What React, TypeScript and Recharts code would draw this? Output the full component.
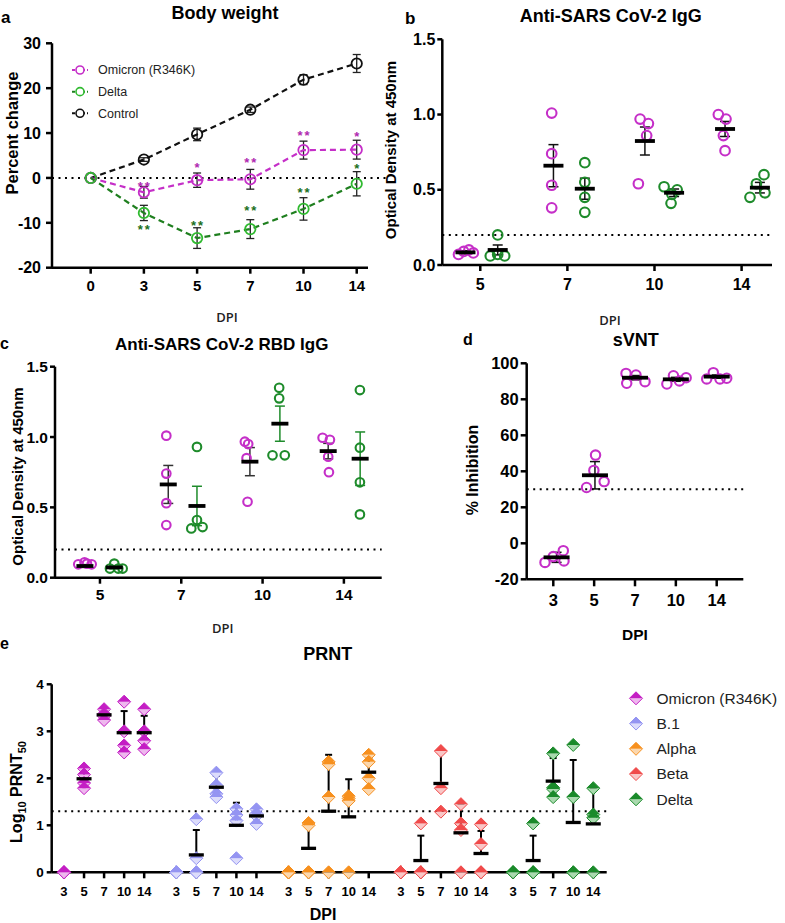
import React from "react";
import {
  ComposedChart,
  ScatterChart,
  Line,
  Scatter,
  XAxis,
  YAxis,
  ErrorBar,
  ReferenceLine,
} from "recharts";

const FONT = "'Liberation Sans', Arial, Helvetica, sans-serif";
const SMALL_FONT = "'Open Sans', 'Liberation Sans', sans-serif";

const MAGENTA = "#C52FC8";
const MAGENTA_STAR = "#B02AB0";
const GREEN_BRIGHT = "#30BA30";
const GREEN_LINE = "#1F7F1F";
const GREEN_DARK = "#1E8B2B";
const GREEN_STAR = "#1B701B";

// ---- a: body weight, % change (mean ± SEM) ----
const BW_DAYS = ["0", "3", "5", "7", "10", "14"];
const BW_SERIES = ["Omicron (R346K)", "Delta", "Control"];
const BW_OMICRON = [0, -3.2, -0.5, -0.3, 6.2, 6.3];
const BW_OMICRON_SEM = [0, 1.3, 1.6, 2.2, 2.0, 2.1];
const BW_DELTA = [0, -7.8, -13.4, -11.4, -6.9, -1.3];
const BW_DELTA_SEM = [0, 1.7, 2.3, 2.1, 2.5, 2.7];
const BW_CONTROL = [0, 4.1, 9.7, 15.2, 21.9, 25.5];
const BW_CONTROL_SEM = [0, 0.4, 1.4, 0.6, 1.1, 2.0];
const BW_OMICRON_SIG = ["", "**", "*", "**", "**", "*"];
const BW_OMICRON_SIG_AT = [0, -1.2, 2.9, 4.0, 10.2, 9.9];
const BW_DELTA_SIG = ["", "**", "**", "**", "**", "*"];
const BW_DELTA_SIG_AT = [0, -10.8, -9.9, -6.5, -2.7, 2.7];

// ---- b: anti-SARS CoV-2 IgG (OD450) ----
const ELISA_DAYS = ["5", "7", "10", "14"];
const IGG_OMICRON = [[0.07, 0.09, 0.1, 0.08], [1.01, 0.74, 0.53, 0.38], [0.97, 0.94, 0.86, 0.54], [1.0, 0.97, 0.86, 0.76]];
const IGG_OMICRON_MEAN = [0.084, 0.66, 0.824, 0.904];
const IGG_OMICRON_SEM = [0.01, 0.14, 0.093, 0.05];
const IGG_DELTA = [[0.06, 0.2, 0.07, 0.06], [0.68, 0.55, 0.45, 0.35], [0.52, 0.47, 0.5, 0.41], [0.45, 0.54, 0.6, 0.48]];
const IGG_DELTA_MEAN = [0.1, 0.507, 0.48, 0.514];
const IGG_DELTA_SEM = [0.033, 0.07, 0.025, 0.035];

// ---- c: anti-SARS CoV-2 RBD IgG (OD450) ----
const RBD_OMICRON = [[0.095, 0.11, 0.1, 0.095], [1.01, 0.74, 0.53, 0.374], [0.967, 0.95, 0.85, 0.54], [0.995, 0.98, 0.86, 0.75]];
const RBD_OMICRON_MEAN = [0.083, 0.663, 0.825, 0.9];
const RBD_OMICRON_SEM = [0.01, 0.135, 0.1, 0.055];
const RBD_DELTA = [[0.065, 0.1, 0.065, 0.065], [0.93, 0.35, 0.41, 0.36], [1.35, 1.275, 0.87, 0.87], [1.334, 0.924, 0.678, 0.45]];
const RBD_DELTA_MEAN = [0.073, 0.51, 1.095, 0.846];
const RBD_DELTA_SEM = [0.01, 0.14, 0.125, 0.19];

// ---- d: sVNT % inhibition ----
const SVNT_DAYS = ["3", "5", "7", "10", "14"];
const SVNT = [[-10.6, -7.4, -4.1, -9.8], [31, 49, 40.5, 34.3], [94.4, 88.9, 93.5, 89.8], [88.5, 93.1, 90.2, 92], [91.3, 94.8, 91.3, 91.7]];
const SVNT_MEAN = [-7.8, 37.8, 92, 91.1, 92.6];
const SVNT_SEM = [2.8, 7.6, 1.2, 1.1, 0.9];

// ---- e: PRNT, log10 PRNT50 (mean + SD) ----
const PRNT_DAYS = ["3", "5", "7", "10", "14"];
const PRNT_VARIANTS = ["Omicron (R346K)", "B.1", "Alpha", "Beta", "Delta"];
const PRNT_OMICRON = [[0, 0, 0, 0], [2.21, 2.08, 1.9, 1.79], [3.47, 3.37, 3.32, 3.24], [3.63, 3.0, 2.7, 2.55], [3.47, 3.0, 2.8, 2.62]];
const PRNT_B1 = [[0, 0, 0, 0], [1.13, 0.3, 0, 0], [2.12, 1.85, 1.67, 1.6], [1.35, 1.22, 1.1, 0.3], [1.34, 1.25, 1.2, 1.03]];
const PRNT_ALPHA = [[0, 0, 0, 0], [1.05, 1.0, 0, 0], [2.35, 2.3, 1.6, 0], [1.62, 1.57, 1.52, 0], [2.5, 2.35, 2.0, 1.77]];
const PRNT_BETA = [[0, 0, 0, 0], [1.04, 0, 0, 0], [2.58, 1.79, 1.29], [1.45, 1.04, 0.9, 0], [1.02, 0.6, 0, 0]];
const PRNT_DELTA = [[0, 0, 0, 0], [1.04, 0, 0, 0], [2.53, 1.8, 1.77, 1.6], [2.71, 1.6, 0, 0], [1.79, 1.23, 1.16, 0]];
const PRNT_MEANS = [
  [0, 1.99, 3.35, 2.97, 2.97],
  [0, 0.37, 1.81, 1.0, 1.2],
  [0, 0.51, 1.3, 1.18, 2.13],
  [0, 0.25, 1.89, 0.84, 0.4],
  [0, 0.25, 1.94, 1.06, 1.03],
];
const PRNT_SD = [
  [0, 0.15, 0.06, 0.46, 0.36],
  [0, 0.53, 0.24, 0.48, 0.11],
  [0, 0.57, 1.2, 0.8, 0.3],
  [0, 0.53, 0.65, 0.61, 0.48],
  [0, 0.53, 0.49, 1.33, 0.74],
];

// horizontal scatter of the dots inside a group (category units), as drawn by the plotting program
const IGG_OMICRON_DX = [[-0.25, -0.19, -0.13, -0.08], [-0.18, -0.18, -0.18, -0.18], [-0.165, -0.07, -0.09, -0.185], [-0.267, -0.179, -0.209, -0.19]];
const IGG_OMICRON_MEAN_DX = [-0.17, -0.16, -0.11, -0.19];
const IGG_DELTA_DX = [[0.115, 0.2, 0.2, 0.28], [0.2, 0.2, 0.2, 0.2], [0.11, 0.2, 0.26, 0.19], [0.096, 0.17, 0.257, 0.268]];
const IGG_DELTA_MEAN_DX = [0.2, 0.2, 0.225, 0.21];
const RBD_OMICRON_DX = [[-0.267, -0.19, -0.16, -0.102], [-0.184, -0.184, -0.184, -0.184], [-0.218, -0.177, -0.197, -0.185], [-0.262, -0.172, -0.193, -0.184]];
const RBD_OMICRON_MEAN_DX = [-0.185, -0.16, -0.156, -0.193];
const RBD_DELTA_DX = [[0.123, 0.176, 0.225, 0.279], [0.193, 0.123, 0.193, 0.262], [0.204, 0.204, 0.122, 0.273], [0.197, 0.197, 0.197, 0.197]];
const RBD_DELTA_MEAN_DX = [0.176, 0.193, 0.213, 0.2];
const SVNT_DX = [[-0.203, 0, 0.245, 0.262], [-0.186, 0.034, -0.007, 0.245], [-0.22, -0.203, 0.024, 0.245], [-0.22, -0.059, 0.088, 0.252], [-0.245, -0.083, 0.08, 0.245]];
const SVNT_MEAN_DX = [0.08, 0.02, 0, 0, 0];
const PRNT_GAP = 5.6;
const PRNT_COLORS = ["#C41EC4", "#9494F2", "#F7901E", "#F04A4A", "#1A8A2A"];
const PRNT_LIGHT = ["#EEB8EE", "#DCDCFB", "#FBD7AE", "#F9C6C6", "#A9D9AE"];

type Box = { left: number; top: number; width: number; height: number };
type Plot = { x0: number; y0: number; x1: number; y1: number };
const YW = 40;
const XH = 30;

function frame(box: Box, plot: Plot) {
  return {
    width: box.width,
    height: box.height,
    margin: {
      top: plot.y0 - box.top,
      right: box.left + box.width - plot.x1,
      bottom: box.top + box.height - plot.y1 - XH,
      left: plot.x0 - box.left - YW,
    },
  };
}

const Place = ({ box, children }: { box: Box; children: React.ReactNode }) => (
  <div style={{ position: "absolute", left: box.left, top: box.top, width: box.width, height: box.height }}>
    {children}
  </div>
);

const AXIS = { stroke: "#000", strokeWidth: 2.5 };
const tickFont = (size: number) => ({ fontSize: size, fontWeight: 700, fill: "#000", fontFamily: FONT });
const DOTTED = { stroke: "#000", strokeWidth: 2, strokeDasharray: "2 4.5" };

const openCircle = (color: string, r: number, sw: number) => (p: any) =>
  <circle cx={p.cx} cy={p.cy} r={r} fill="none" stroke={color} strokeWidth={sw} />;

const meanBar = (hw: number, th: number) => (p: any) =>
  <rect x={p.cx - hw} y={p.cy - th / 2} width={hw * 2} height={th} fill="#000" />;

const halfDiamond = (color: string, light: string, r = 6.5) => (p: any) => {
  const { cx, cy } = p;
  return (
    <g>
      <path d={`M${cx - r},${cy}L${cx},${cy + r}L${cx + r},${cy}Z`} fill={light} />
      <path d={`M${cx - r},${cy}L${cx},${cy - r}L${cx + r},${cy}Z`} fill={color} />
      <path d={`M${cx - r},${cy}L${cx},${cy - r}L${cx + r},${cy}L${cx},${cy + r}Z`} fill="none" stroke={color} strokeWidth={1} />
    </g>
  );
};

// ---------- panel a ----------
const A_BOX: Box = { left: 0, top: 0, width: 392, height: 310 };
const A_PLOT: Plot = { x0: 52, y0: 43.3, x1: 368, y1: 267.7 };

function BodyWeight() {
  const rows = BW_DAYS.map((_, i) => ({
    x: i,
    omicron: BW_OMICRON[i],
    omicronErr: BW_OMICRON_SEM[i],
    delta: BW_DELTA[i],
    deltaErr: BW_DELTA_SEM[i],
    control: BW_CONTROL[i],
    controlErr: BW_CONTROL_SEM[i],
  }));
  const omiStars = BW_OMICRON_SIG.map((s, i) => ({ x: i, y: BW_OMICRON_SIG_AT[i], s })).filter((d) => d.s);
  const deltaStars = BW_DELTA_SIG.map((s, i) => ({ x: i, y: BW_DELTA_SIG_AT[i], s })).filter((d) => d.s);
  const star = (color: string) => (p: any) => (
    <text x={p.cx + 1} y={p.cy + 7.4} textAnchor="middle" fontSize={13} fontWeight={700} letterSpacing={2} fill={color} fontFamily={FONT}>
      {p.payload.s}
    </text>
  );
  const f = frame(A_BOX, A_PLOT);
  const series = [
    { key: "control", color: "#111", line: "#111" },
    { key: "omicron", color: MAGENTA, line: MAGENTA },
    { key: "delta", color: GREEN_BRIGHT, line: GREEN_LINE },
  ];
  return (
    <Place box={A_BOX}>
      <ComposedChart width={f.width} height={f.height} margin={f.margin} data={rows}>
        <ReferenceLine segment={[{ x: -0.727, y: 0 }, { x: 5.59, y: 0 }]} ifOverflow="visible" {...DOTTED} />
        <XAxis type="number" dataKey="x" domain={[-0.727, 5.212]} ticks={BW_DAYS.map((_, i) => i)}
          tickFormatter={(v: number) => BW_DAYS[Math.round(v)]} height={XH} axisLine={AXIS} tickLine={AXIS}
          tickSize={6} tickMargin={7} tick={tickFont(15)} interval={0} />
        <YAxis type="number" domain={[-20, 30]} ticks={[-20, -10, 0, 10, 20, 30]} width={YW}
          axisLine={AXIS} tickLine={AXIS} tickSize={6} tickMargin={5} tick={tickFont(16)} interval={0} />
        {series.map((s) => (
          <Line key={s.key} dataKey={s.key} stroke={s.line} strokeWidth={2.2} strokeDasharray="6 4"
            isAnimationActive={false} dot={openCircle(s.color, 5.2, 1.8)} activeDot={false}>
            <ErrorBar dataKey={`${s.key}Err`} direction="y" width={4} stroke="#222" strokeWidth={1.3} />
          </Line>
        ))}
        <Scatter data={omiStars} dataKey="y" shape={star(MAGENTA_STAR)} isAnimationActive={false} />
        <Scatter data={deltaStars} dataKey="y" shape={star(GREEN_STAR)} isAnimationActive={false} />
      </ComposedChart>
    </Place>
  );
}

// ---------- panels b, c, d: dot plots with mean ± SEM ----------
type DotSeries = {
  values: number[][];
  dx: number[][];
  mean: number[];
  meanDx: number[];
  err: number[];
  color: string;
  errColor: string;
};

function DotPanel(props: {
  box: Box;
  plot: Plot;
  xDomain: [number, number];
  labels: string[];
  yDomain: [number, number];
  yTicks: number[];
  yFmt: (v: number) => string;
  threshold: number;
  series: DotSeries[];
  r: number;
  hw: number;
  font: number;
  xTick: [number, number];
  yTick: [number, number];
}) {
  const f = frame(props.box, props.plot);
  return (
    <Place box={props.box}>
      <ScatterChart width={f.width} height={f.height} margin={f.margin}>
        <ReferenceLine y={props.threshold} {...DOTTED} />
        <XAxis type="number" dataKey="x" domain={props.xDomain} ticks={props.labels.map((_, i) => i)}
          tickFormatter={(v: number) => props.labels[Math.round(v)]} height={XH} axisLine={AXIS} tickLine={AXIS}
          tickSize={props.xTick[0]} tickMargin={props.xTick[1]} tick={tickFont(props.font)} interval={0} />
        <YAxis type="number" dataKey="y" domain={props.yDomain} ticks={props.yTicks} tickFormatter={props.yFmt}
          width={YW} axisLine={AXIS} tickLine={AXIS} tickSize={props.yTick[0]} tickMargin={props.yTick[1]}
          tick={tickFont(props.font)} interval={0} />
        {props.series.map((s, si) => (
          <Scatter key={`p${si}`} isAnimationActive={false} shape={openCircle(s.color, props.r, 2.1)}
            data={s.values.flatMap((grp, g) => grp.map((y, k) => ({ x: g + s.dx[g][k], y })))} />
        ))}
        {props.series.map((s, si) => (
          <Scatter key={`m${si}`} isAnimationActive={false} shape={meanBar(props.hw, 3.8)}
            data={s.mean.map((y, g) => ({ x: g + s.meanDx[g], y, err: s.err[g] }))}>
            <ErrorBar dataKey="err" direction="y" width={5} stroke={s.errColor} strokeWidth={1.5} />
          </Scatter>
        ))}
      </ScatterChart>
    </Place>
  );
}

// ---------- panel e ----------
const E_BOX: Box = { left: 0, top: 615, width: 785, height: 308 };
const E_PLOT: Plot = { x0: 51.7, y0: 684.3, x1: 606.7, y1: 872.3 };

function Prnt() {
  const f = frame(E_BOX, E_PLOT);
  const groups = [PRNT_OMICRON, PRNT_B1, PRNT_ALPHA, PRNT_BETA, PRNT_DELTA];
  const ticks = PRNT_VARIANTS.flatMap((_, g) => PRNT_DAYS.map((_, d) => g * PRNT_GAP + d));
  return (
    <Place box={E_BOX}>
      <ScatterChart width={f.width} height={f.height} margin={f.margin}>
        <ReferenceLine y={1.3} {...DOTTED} />
        <XAxis type="number" dataKey="x" domain={[-0.613, 27.07]} ticks={ticks}
          tickFormatter={(v: number) => {
            const g = Math.floor((v + 0.5) / PRNT_GAP);
            return PRNT_DAYS[Math.round(v - g * PRNT_GAP)];
          }}
          height={XH} axisLine={AXIS} tickLine={AXIS} tickSize={6} tickMargin={8} tick={tickFont(13)} interval={0} />
        <YAxis type="number" dataKey="y" domain={[0, 4]} ticks={[0, 1, 2, 3, 4]} width={YW}
          axisLine={AXIS} tickLine={AXIS} tickSize={5} tickMargin={3} tick={tickFont(13.5)} interval={0} />
        {groups.map((grp, g) => (
          <Scatter key={`p${g}`} isAnimationActive={false} shape={halfDiamond(PRNT_COLORS[g], PRNT_LIGHT[g])}
            data={grp.flatMap((vals, d) => vals.map((y) => ({ x: g * PRNT_GAP + d, y })))} />
        ))}
        {groups.map((_, g) => (
          <Scatter key={`m${g}`} isAnimationActive={false} shape={meanBar(7.5, 3.3)}
            data={PRNT_MEANS[g]
              .map((y, d) => ({ x: g * PRNT_GAP + d, y, err: [0, PRNT_SD[g][d]] }))
              .filter((row) => row.y > 0)}>
            <ErrorBar dataKey="err" direction="y" width={3.5} stroke="#000" strokeWidth={2} />
          </Scatter>
        ))}
      </ScatterChart>
    </Place>
  );
}

// ---------- text overlay: panel letters, titles, axis titles, legends ----------
function Overlay() {
  const bold = { fontFamily: FONT, fontWeight: 700, fill: "#000" } as const;
  const small = { fontFamily: SMALL_FONT, fontWeight: 600, fill: "#222", fontSize: 13 } as const;
  const vert = (x: number, y: number, size: number, text: React.ReactNode) => (
    <text transform={`translate(${x},${y}) rotate(-90)`} textAnchor="middle" dy="0.35em" fontSize={size} {...bold}>
      {text}
    </text>
  );
  const bwColors = [MAGENTA, GREEN_BRIGHT, "#111"];
  const bwLines = [MAGENTA, GREEN_LINE, "#111"];
  return (
    <svg width={785} height={923} style={{ position: "absolute", left: 0, top: 0, pointerEvents: "none" }}>
      {/* panel letters */}
      <text x={1} y={23} fontSize={17} {...bold}>a</text>
      <text x={405} y={24} fontSize={17} {...bold}>b</text>
      <text x={0} y={349} fontSize={16} {...bold}>c</text>
      <text x={463} y={345} fontSize={16} {...bold}>d</text>
      <text x={0} y={649} fontSize={16} {...bold}>e</text>

      {/* titles */}
      <text x={225} y={19} textAnchor="middle" fontSize={18} {...bold}>Body weight</text>
      <text x={610.7} y={21.7} textAnchor="middle" fontSize={18} {...bold}>Anti-SARS CoV-2 IgG</text>
      <text x={221.7} y={350} textAnchor="middle" fontSize={17} {...bold}>Anti-SARS CoV-2 RBD IgG</text>
      <text x={635.7} y={345.7} textAnchor="middle" fontSize={18} {...bold}>sVNT</text>
      <text x={327.7} y={660} textAnchor="middle" fontSize={18} {...bold}>PRNT</text>

      {/* axis titles */}
      {vert(12, 133, 16.5, "Percent change")}
      {vert(391, 150, 15, "Optical Density at 450nm")}
      {vert(17.5, 476.5, 15, "Optical Density at 450nm")}
      {vert(472.5, 470, 16, "% Inhibition")}
      {vert(16.5, 792, 16, (
        <>
          Log<tspan dy={4} fontSize={11}>10</tspan>
          <tspan dy={-4}> PRNT</tspan>
          <tspan dy={4} fontSize={11}>50</tspan>
        </>
      ))}
      <text x={227} y={321.5} textAnchor="middle" {...small}>DPI</text>
      <text x={610} y={324.5} textAnchor="middle" {...small}>DPI</text>
      <text x={222.7} y={632.5} textAnchor="middle" {...small}>DPI</text>
      <text x={635} y={640} textAnchor="middle" fontSize={15.5} {...bold}>DPI</text>
      <text x={323} y={920} textAnchor="middle" fontSize={16} {...bold}>DPI</text>

      {/* legend a */}
      {BW_SERIES.map((name, i) => {
        const y = 70 + i * 21.65;
        return (
          <g key={name}>
            <line x1={72} x2={88} y1={y} y2={y} stroke={bwLines[i]} strokeWidth={2} strokeDasharray="3 2" />
            <circle cx={80} cy={y} r={4} fill="#fff" stroke={bwColors[i]} strokeWidth={1.6} />
            <text x={98} y={y} dy="0.35em" fontSize={12.5} fontFamily={FONT} fill="#222">{name}</text>
          </g>
        );
      })}

      {/* legend e */}
      {PRNT_VARIANTS.map((name, i) => {
        const y = 698.3 + i * 25.25;
        return (
          <g key={name}>
            {halfDiamond(PRNT_COLORS[i], PRNT_LIGHT[i], 6.5)({ cx: 636, cy: y })}
            <text x={656.5} y={y} dy="0.35em" fontSize={15.5} fontFamily={FONT} fill="#222">{name}</text>
          </g>
        );
      })}
    </svg>
  );
}

export default function App() {
  const fmt1 = (v: number) => v.toFixed(1);
  return (
    <div style={{ position: "absolute", left: 0, top: 0, width: 785, height: 923, background: "#fff", overflow: "hidden" }}>
      <BodyWeight />
      <DotPanel
        box={{ left: 392, top: 0, width: 393, height: 310 }}
        plot={{ x0: 442.3, y0: 39.3, x1: 772, y1: 265 }}
        xDomain={[-0.436, 3.349]}
        labels={ELISA_DAYS}
        yDomain={[0, 1.5]}
        yTicks={[0, 0.5, 1, 1.5]}
        yFmt={fmt1}
        threshold={0.2}
        r={4.8}
        hw={10}
        font={16}
        xTick={[6, 8]}
        yTick={[5, 2]}
        series={[
          { values: IGG_OMICRON, dx: IGG_OMICRON_DX, mean: IGG_OMICRON_MEAN, meanDx: IGG_OMICRON_MEAN_DX, err: IGG_OMICRON_SEM, color: MAGENTA, errColor: "#111" },
          { values: IGG_DELTA, dx: IGG_DELTA_DX, mean: IGG_DELTA_MEAN, meanDx: IGG_DELTA_MEAN_DX, err: IGG_DELTA_SEM, color: GREEN_DARK, errColor: "#111" },
        ]}
      />
      <DotPanel
        box={{ left: 0, top: 310, width: 392, height: 300 }}
        plot={{ x0: 55, y0: 366.7, x1: 381.7, y1: 577.7 }}
        xDomain={[-0.553, 3.465]}
        labels={ELISA_DAYS}
        yDomain={[0, 1.5]}
        yTicks={[0, 0.5, 1, 1.5]}
        yFmt={fmt1}
        threshold={0.2}
        r={4.3}
        hw={8.5}
        font={15.5}
        xTick={[6, 5]}
        yTick={[5, 2]}
        series={[
          { values: RBD_OMICRON, dx: RBD_OMICRON_DX, mean: RBD_OMICRON_MEAN, meanDx: RBD_OMICRON_MEAN_DX, err: RBD_OMICRON_SEM, color: MAGENTA, errColor: "#333" },
          { values: RBD_DELTA, dx: RBD_DELTA_DX, mean: RBD_DELTA_MEAN, meanDx: RBD_DELTA_MEAN_DX, err: RBD_DELTA_SEM, color: GREEN_DARK, errColor: GREEN_DARK },
        ]}
      />
      <DotPanel
        box={{ left: 392, top: 310, width: 393, height: 300 }}
        plot={{ x0: 526.7, y0: 363.3, x1: 743.3, y1: 579.3 }}
        xDomain={[-0.651, 4.651]}
        labels={SVNT_DAYS}
        yDomain={[-20, 100]}
        yTicks={[-20, 0, 20, 40, 60, 80, 100]}
        yFmt={(v: number) => String(v)}
        threshold={30}
        r={4.7}
        hw={13}
        font={16.5}
        xTick={[7, 8]}
        yTick={[6, 2]}
        series={[
          { values: SVNT, dx: SVNT_DX, mean: SVNT_MEAN, meanDx: SVNT_MEAN_DX, err: SVNT_SEM, color: MAGENTA, errColor: "#111" },
        ]}
      />
      <Prnt />
      <Overlay />
    </div>
  );
}
